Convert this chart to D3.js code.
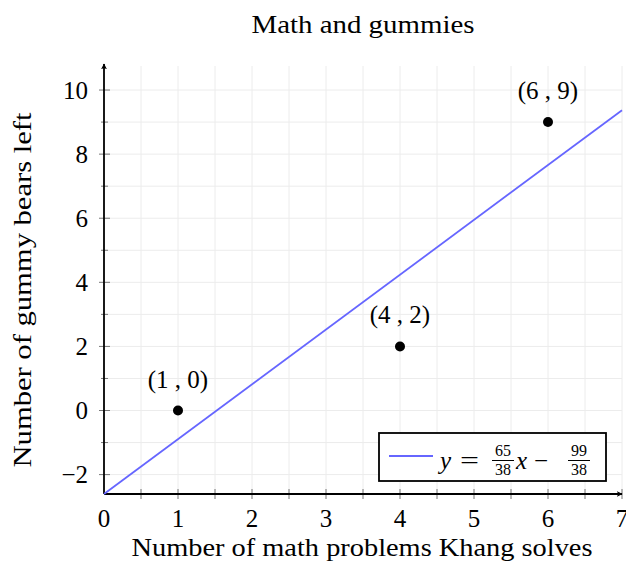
<!DOCTYPE html>
<html>
<head>
<meta charset="utf-8">
<script src="https://cdn.jsdelivr.net/npm/d3@7"></script>
<style>
body { margin: 0; background: #fff; }
text { font-family: "Liberation Serif", "DejaVu Serif", serif; fill: #000; }
</style>
</head>
<body>
<div id="chart"></div>
<script>
// data points
var pointX = [1, 4, 6];
var pointY = [0, 2, 9];
var pointLabels = ["(1 , 0)", "(4 , 2)", "(6 , 9)"];
// fitted line y = 65/38 x - 99/38
var slope = [65, 38];
var intercept = [99, 38];
var xTicks = [0, 1, 2, 3, 4, 5, 6, 7];
var yTicks = [-2, 0, 2, 4, 6, 8, 10];

var W = 626, H = 570;
var margin = {top: 66, right: 4, bottom: 76, left: 104};
var width = W - margin.left - margin.right,
	height = H - margin.top - margin.bottom;

var svg = d3.select("#chart").append("svg")
	.attr("width", W)
	.attr("height", H);

var x = d3.scaleLinear().domain([0, 7]).range([margin.left, margin.left + width]);
var y = d3.scaleLinear().domain([-99 / 38, 10.75]).range([margin.top + height, margin.top]);

var defs = svg.append("defs");
defs.append("marker")
	.attr("id", "arrow")
	.attr("viewBox", "0 0 10 10")
	.attr("refX", 9).attr("refY", 5)
	.attr("markerWidth", 6).attr("markerHeight", 6)
	.attr("markerUnits", "userSpaceOnUse")
	.attr("orient", "auto")
	.append("path")
	.attr("d", "M0,0 Q4,5 0,10 L10,5 Z")
	.attr("fill", "#000");

// grid
var gx = d3.range(0.5, 7.01, 0.5);
var gy = d3.range(-2, 10.01, 1);
svg.append("g").selectAll("line").data(gx).enter().append("line")
	.attr("x1", function(d) { return x(d); }).attr("x2", function(d) { return x(d); })
	.attr("y1", y.range()[0]).attr("y2", y.range()[1])
	.attr("stroke", "#ececec").attr("stroke-width", 1);
svg.append("g").selectAll("line").data(gy).enter().append("line")
	.attr("x1", x.range()[0]).attr("x2", x.range()[1])
	.attr("y1", function(d) { return y(d); }).attr("y2", function(d) { return y(d); })
	.attr("stroke", "#ececec").attr("stroke-width", 1);

// ticks
svg.append("g").selectAll("line").data(gx).enter().append("line")
	.attr("x1", function(d) { return x(d); }).attr("x2", function(d) { return x(d); })
	.attr("y1", y.range()[0] - 5).attr("y2", y.range()[0] + 5)
	.attr("stroke", "#777").attr("stroke-width", 1);
svg.append("g").selectAll("line").data(gy).enter().append("line")
	.attr("x1", function(d) { return x(0) - (d % 2 === 0 ? 5 : 3); })
	.attr("x2", function(d) { return x(0) + (d % 2 === 0 ? 6 : 4); })
	.attr("y1", function(d) { return y(d); }).attr("y2", function(d) { return y(d); })
	.attr("stroke", "#777").attr("stroke-width", 1);

// axes
svg.append("line")
	.attr("x1", x(0)).attr("x2", x(7))
	.attr("y1", y.range()[0]).attr("y2", y.range()[0])
	.attr("stroke", "#000").attr("stroke-width", 1.8)
	.attr("marker-end", "url(#arrow)");
svg.append("line")
	.attr("x1", x(0)).attr("x2", x(0))
	.attr("y1", y.range()[0]).attr("y2", y.range()[1] - 2)
	.attr("stroke", "#000").attr("stroke-width", 1.8)
	.attr("marker-end", "url(#arrow)");

// tick labels
svg.append("g").selectAll("text").data(xTicks).enter().append("text")
	.attr("x", function(d) { return x(d); })
	.attr("y", 527)
	.attr("text-anchor", "middle")
	.attr("font-size", 25)
	.text(function(d) { return d; });
svg.append("g").selectAll("text").data(yTicks).enter().append("text")
	.attr("x", x(0) - 16)
	.attr("y", function(d) { return y(d) + 8.5; })
	.attr("text-anchor", "end")
	.attr("font-size", 25)
	.text(function(d) { return d < 0 ? "\u2212" + Math.abs(d) : d; });

// fitted line
var line = d3.line()
	.x(function(d) { return x(d); })
	.y(function(d) { return y(slope[0] / slope[1] * d - intercept[0] / intercept[1]); });
svg.append("path")
	.datum([0, 7])
	.attr("d", line)
	.attr("fill", "none")
	.attr("stroke", "#6666ff")
	.attr("stroke-width", 1.8);

// points
var pts = pointX.map(function(d, i) { return {x: d, y: pointY[i], label: pointLabels[i]}; });
svg.append("g").selectAll("circle").data(pts).enter().append("circle")
	.attr("cx", function(d) { return x(d.x); })
	.attr("cy", function(d) { return y(d.y); })
	.attr("r", 5)
	.attr("fill", "#000");
svg.append("g").selectAll("text").data(pts).enter().append("text")
	.attr("x", function(d) { return x(d.x); })
	.attr("y", function(d) { return y(d.y) - 23; })
	.attr("text-anchor", "middle")
	.attr("font-size", 25)
	.text(function(d) { return d.label; });

// title and labels
svg.append("text")
	.attr("x", 363).attr("y", 33)
	.attr("text-anchor", "middle").attr("font-size", 25)
	.attr("textLength", 223).attr("lengthAdjust", "spacingAndGlyphs")
	.text("Math and gummies");
svg.append("text")
	.attr("x", 362).attr("y", 556)
	.attr("text-anchor", "middle").attr("font-size", 25)
	.attr("textLength", 461).attr("lengthAdjust", "spacingAndGlyphs")
	.text("Number of math problems Khang solves");
svg.append("text")
	.attr("transform", "translate(31,290) rotate(-90)")
	.attr("text-anchor", "middle").attr("font-size", 25)
	.attr("textLength", 355).attr("lengthAdjust", "spacingAndGlyphs")
	.text("Number of gummy bears left");

// legend
var lg = svg.append("g").attr("transform", "translate(379,433)");
lg.append("rect").attr("width", 227).attr("height", 48)
	.attr("fill", "#fff").attr("stroke", "#000").attr("stroke-width", 1.8);
lg.append("line").attr("x1", 10).attr("x2", 54).attr("y1", 23).attr("y2", 23)
	.attr("stroke", "#6666ff").attr("stroke-width", 1.8);
function frac(g, cx, num, den) {
	g.append("text").attr("x", cx).attr("y", 23).attr("text-anchor", "middle")
		.attr("font-size", 16).text(num);
	g.append("line").attr("x1", cx - 11).attr("x2", cx + 11).attr("y1", 27.5).attr("y2", 27.5)
		.attr("stroke", "#000").attr("stroke-width", 1);
	g.append("text").attr("x", cx).attr("y", 42).attr("text-anchor", "middle")
		.attr("font-size", 16).text(den);
}
lg.append("text").attr("x", 61).attr("y", 36).attr("font-size", 25)
	.attr("font-style", "italic").text("y");
lg.append("text").attr("x", 81).attr("y", 36).attr("font-size", 25)
	.attr("textLength", 19).attr("lengthAdjust", "spacingAndGlyphs").text("=");
frac(lg, 124, slope[0], slope[1]);
lg.append("text").attr("x", 137).attr("y", 36).attr("font-size", 25)
	.attr("font-style", "italic").text("x");
lg.append("text").attr("x", 155).attr("y", 36).attr("font-size", 25).text("\u2212");
frac(lg, 200, intercept[0], intercept[1]);
</script>
</body>
</html>
